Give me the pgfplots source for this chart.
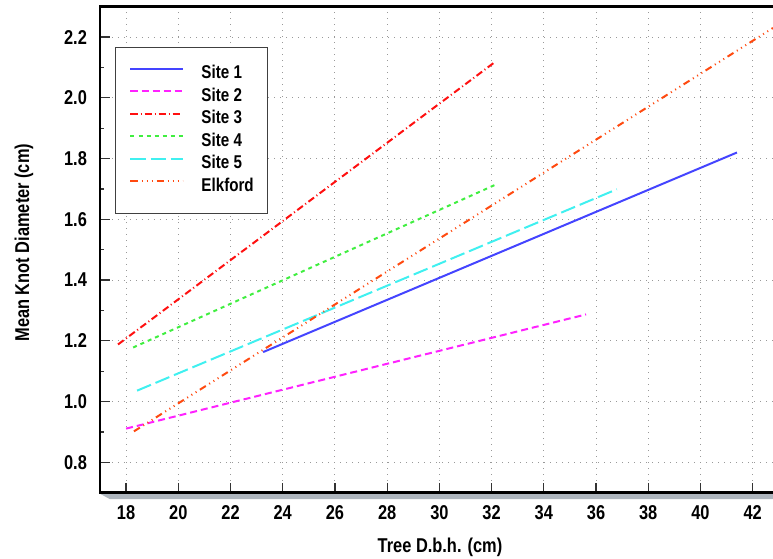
\documentclass[border=0pt]{standalone}
\usepackage{fontspec}
\setmainfont{Liberation Sans}[FakeStretch=0.82]
\usepackage{pgfplots}
\pgfplotsset{compat=1.18}
\definecolor{cS1}{HTML}{4444FF}
\definecolor{cS2}{HTML}{FF22FF}
\definecolor{cS3}{HTML}{FF1010}
\definecolor{cS4}{HTML}{40EE40}
\definecolor{cS5}{HTML}{40F0F0}
\definecolor{cEl}{HTML}{FF4A10}
\definecolor{shadow}{HTML}{AEB6BE}
\begin{document}
\begin{tikzpicture}[x=1pt,y=1pt]
\begin{axis}[
  scale only axis,
  width=673pt, height=486pt,
  xmin=17, xmax=42.78, ymin=0.7, ymax=2.3,
  axis line style={draw=none},
  xtick={18,20,...,42},
  ytick={0.8,1.0,...,2.2},
  minor ytick={0.7,0.9,...,2.3},
  xtick pos=bottom, ytick pos=left,
  yticklabel style={/pgf/number format/fixed, /pgf/number format/fixed zerofill, /pgf/number format/precision=1, anchor=center, xshift=-24.5pt},
  /pgf/number format/assume math mode=true,
  tick align=inside,
  major tick length=10pt, minor tick length=4pt,
  tick style={black!80, line width=1.3pt},
  ticklabel style={font=\fontsize{20}{22}\selectfont\bfseries},
  xticklabel style={anchor=center, yshift=-20pt},
  grid=major,
  major grid style={gray!80, line width=1pt, dash pattern=on 1pt off 5pt},
  xlabel={Tree D.b.h. (cm)},
  ylabel={Mean Knot Diameter (cm)},
  label style={font=\fontsize{20}{22}\selectfont\bfseries},
  xlabel style={at={(340pt,-54.3pt)}, anchor=center},
  ylabel style={at={(-76pt,250pt)}, anchor=center},
  legend style={at={(15pt,446pt)}, anchor=north west, draw=black!75, line width=1pt,
    font=\fontsize{18.5}{20}\selectfont\bfseries, inner xsep=14pt, inner ysep=18pt,
    row sep=5pt, column sep=0pt,
    nodes={inner sep=0pt, text height=13.5pt, text depth=4pt},
    cells={anchor=west}},
  legend image code/.code={\draw[#1, line width=2pt] (0pt,5pt) -- (52pt,5pt); \path (70pt,0pt);},
  legend cell align=left,
  every axis plot/.append style={line width=2pt},
  clip=true,
]
\addplot[cS1] coordinates {(23.25,1.163) (41.4,1.82)};
\addlegendentry{Site 1}
\addplot[cS2, dash pattern=on 7pt off 4pt] coordinates {(18.0,0.911) (35.62,1.287)};
\addlegendentry{Site 2}
\addplot[cS3, dash pattern=on 7pt off 3pt on 1pt off 3pt] coordinates {(17.69,1.188) (32.13,2.118)};
\addlegendentry{Site 3}
\addplot[cS4, dash pattern=on 4pt off 4pt] coordinates {(18.27,1.178) (32.2,1.716)};
\addlegendentry{Site 4}
\addplot[cS5, dash pattern=on 15pt off 5pt] coordinates {(18.42,1.036) (36.8,1.699)};
\addlegendentry{Site 5}
\addplot[cEl, dash pattern=on 7pt off 4pt on 1pt off 4pt on 1pt off 4pt on 1pt off 4pt] coordinates {(18.3,0.902) (42.78,2.23)};
\addlegendentry{Elkford}
\end{axis}
\fill[shadow] (0,-1) -- (673,-1) -- (673,-6.5) -- (10,-6.5) -- cycle;
\draw[black, line width=2.5pt] (673,486) -- (0,486) -- (0,0) -- (673,0);
\pgfresetboundingbox
\path[use as bounding box] (-100,-65.3) rectangle (673,492.7);
\end{tikzpicture}
\end{document}
